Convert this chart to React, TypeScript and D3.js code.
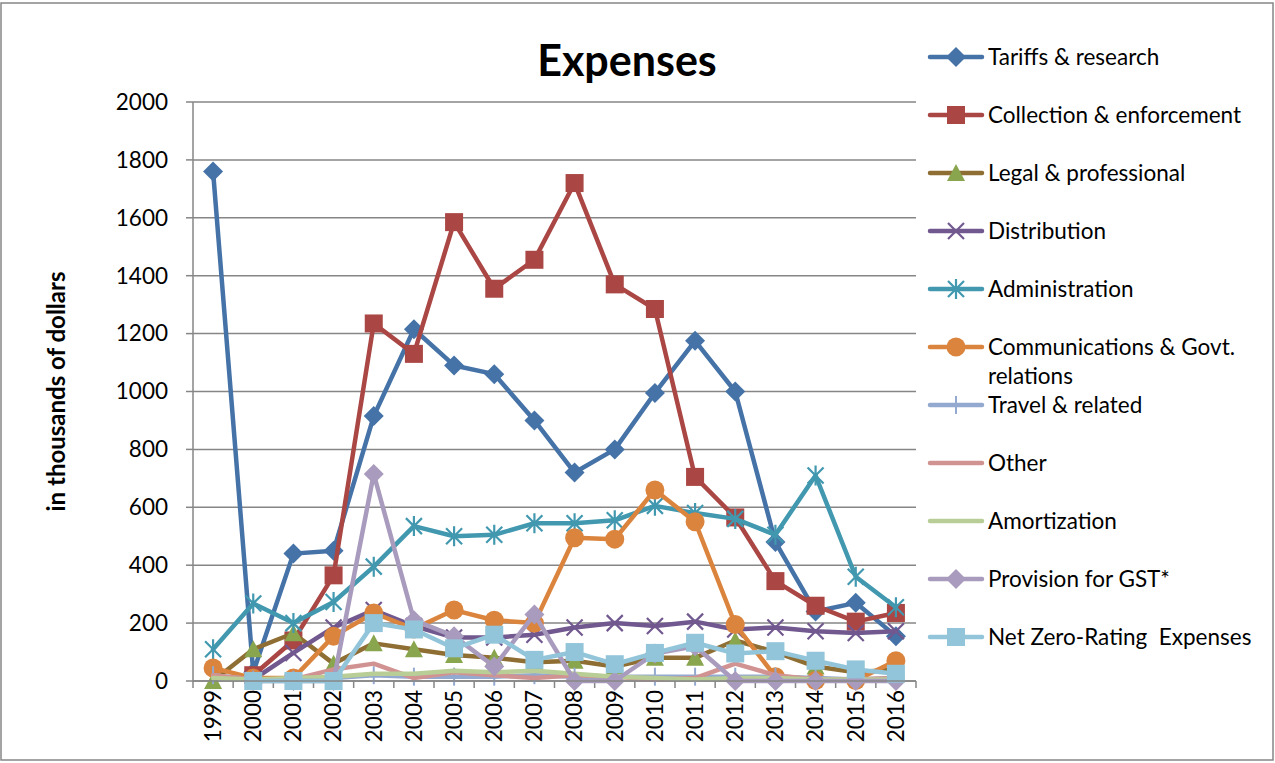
import React from "react";
import * as d3 from "d3";

const years = ["1999","2000","2001","2002","2003","2004","2005","2006","2007","2008","2009","2010","2011","2012","2013","2014","2015","2016"];
const yTicks = [0,200,400,600,800,1000,1200,1400,1600,1800,2000];

type V = number | null;
const tariffs: V[] = [1760,30,440,450,915,1215,1090,1060,900,720,800,995,1175,1000,480,240,270,155];
const collection: V[] = [null,20,140,365,1235,1130,1585,1355,1455,1720,1370,1285,705,565,345,260,205,235];
const legal: V[] = [0,110,165,60,130,110,90,80,65,70,50,80,80,140,100,50,30,40];
const distribution: V[] = [null,5,97,185,245,190,150,150,160,185,200,190,205,178,185,172,166,172];
const administration: V[] = [110,268,200,273,395,535,500,505,545,545,555,605,580,560,505,710,360,255];
const communications: V[] = [45,10,10,155,235,180,245,210,200,495,490,660,550,195,15,2,2,70];
const travel: V[] = [20,5,5,10,20,15,15,15,20,15,15,15,15,15,15,10,5,10];
const other: V[] = [20,5,5,40,60,10,30,20,10,20,15,5,10,60,20,5,5,10];
const amortization: V[] = [10,5,10,15,25,25,35,30,35,25,15,10,5,10,10,5,5,5];
const gst: V[] = [null,0,0,0,715,210,155,50,230,0,0,95,120,0,0,0,0,0];
const netZero: V[] = [null,0,0,0,200,178,113,160,73,100,58,97,132,95,103,70,40,25];

const seriesNames = ["Tariffs & research","Collection & enforcement","Legal & professional","Distribution","Administration","Communications & Govt. relations","Travel & related","Other","Amortization","Provision for GST*","Net Zero-Rating  Expenses"];
const seriesValues = [tariffs,collection,legal,distribution,administration,communications,travel,other,amortization,gst,netZero];
const lineColors = ["#4572A7","#AA4643","#8F6E33","#71588F","#4198AF","#DB843D","#93A9CF","#D19392","#B9CD96","#A99BBD","#92C5DA"];
const markerColors = ["#4572A7","#AA4643","#89A54E","#71588F","#4198AF","#DB843D","#93A9CF","#D19392","#B9CD96","#A99BBD","#92C5DA"];
const markerTypes = ["diamond","square","triangle","x","star","circle","plus","none","none","diamond","square"];

const FONT = "Lato, 'Open Sans', sans-serif";

function Marker({ type, color, x, y }: { type: string; color: string; x: number; y: number }) {
  switch (type) {
    case "diamond":
      return <path d={`M${x},${y - 10}L${x + 10},${y}L${x},${y + 10}L${x - 10},${y}Z`} fill={color} />;
    case "square":
      return <rect x={x - 9} y={y - 9} width={18} height={18} fill={color} />;
    case "triangle":
      return <path d={`M${x},${y - 9}L${x + 9},${y + 8}L${x - 9},${y + 8}Z`} fill={color} />;
    case "circle":
      return <circle cx={x} cy={y} r={9.5} fill={color} />;
    case "x":
      return <path d={`M${x - 8},${y - 8}L${x + 8},${y + 8}M${x - 8},${y + 8}L${x + 8},${y - 8}`} stroke={color} strokeWidth={2.2} fill="none" />;
    case "star":
      return <path d={`M${x - 8},${y - 8}L${x + 8},${y + 8}M${x - 8},${y + 8}L${x + 8},${y - 8}M${x},${y - 10}L${x},${y + 10}`} stroke={color} strokeWidth={2.2} fill="none" />;
    case "plus":
      return <path d={`M${x},${y - 9}L${x},${y + 9}`} stroke={color} strokeWidth={2} fill="none" />;
    default:
      return null;
  }
}

export default function App() {
  const W = 1275, H = 763;
  const left = 193, right = 916, top = 102, bottom = 681;
  const x = d3.scaleBand<string>().domain(years).range([left, right]);
  const y = d3.scaleLinear().domain([0, 2000]).range([bottom, top]);
  const cx = (yr: string) => (x(yr) as number) + x.bandwidth() / 2;

  const line = d3.line<[string, V]>()
    .defined(d => d[1] !== null)
    .x(d => cx(d[0]))
    .y(d => y(d[1] as number));

  const legendY0 = 57, legendStep = 58;
  const legendYs = seriesNames.map((_, i) => legendY0 + i * legendStep);

  return (
    <svg width={W} height={H} style={{ position: "absolute", left: 0, top: 0, fontFamily: FONT }}>
      <rect x={1} y={3} width={1272} height={757} fill="#fff" stroke="#868686" strokeWidth={1.5} />
      <text x={627} y={76} textAnchor="middle" fontSize={43} fontWeight="bold" fill="#000">Expenses</text>
      {/* gridlines */}
      {yTicks.map(t => (
        <line key={t} x1={left} x2={right} y1={y(t)} y2={y(t)} stroke="#868686" strokeWidth={1.5} />
      ))}
      {/* y axis */}
      <line x1={left} x2={left} y1={top} y2={bottom} stroke="#868686" strokeWidth={1.5} />
      {yTicks.map(t => (
        <g key={"yt" + t}>
          <line x1={left - 7} x2={left} y1={y(t)} y2={y(t)} stroke="#868686" strokeWidth={1.5} />
          <text x={168} y={y(t)} dy="0.35em" textAnchor="end" fontSize={22.5} fill="#000">{t}</text>
        </g>
      ))}
      {/* x axis */}
      {years.map(yr => (
        <line key={"xt" + yr} x1={x(yr) as number} x2={x(yr) as number} y1={bottom} y2={bottom + 7} stroke="#868686" strokeWidth={1.5} />
      ))}
      <line x1={right} x2={right} y1={bottom} y2={bottom + 7} stroke="#868686" strokeWidth={1.5} />
      {years.map(yr => (
        <text key={"xl" + yr} transform={`translate(${cx(yr)},${690}) rotate(-90)`} textAnchor="end" dy="0.35em" fontSize={22.5} fill="#000">{yr}</text>
      ))}
      <text transform={`translate(57,${(top + bottom) / 2}) rotate(-90)`} textAnchor="middle" dy="0.35em" fontSize={24} fontWeight="bold" fill="#000">in thousands of dollars</text>

      {/* series */}
      {seriesValues.map((vals, i) => {
        const pts = years.map((yr, j) => [yr, vals[j]] as [string, V]);
        return (
          <g key={"s" + i}>
            <path d={line(pts) || ""} fill="none" stroke={lineColors[i]} strokeWidth={4.5} strokeLinejoin="round" strokeLinecap="round" />
            {pts.filter(p => p[1] !== null).map(p => (
              <Marker key={p[0]} type={markerTypes[i]} color={markerColors[i]} x={cx(p[0])} y={y(p[1] as number)} />
            ))}
          </g>
        );
      })}
      <line x1={left} x2={right} y1={bottom} y2={bottom} stroke="#868686" strokeWidth={1.5} />

      {/* legend */}
      {seriesNames.map((name, i) => {
        const ly = legendYs[i];
        const lines = name === "Communications & Govt. relations" ? ["Communications & Govt.", "relations"] : [name];
        return (
          <g key={"lg" + i}>
            <line x1={930} x2={982} y1={ly} y2={ly} stroke={lineColors[i]} strokeWidth={4.5} strokeLinecap="round" />
            <Marker type={markerTypes[i]} color={markerColors[i]} x={956} y={ly} />
            {lines.map((t, k) => (
              <text key={k} x={988} y={ly + k * 29} dy="0.35em" fontSize={22.5} fill="#000" style={{ whiteSpace: "pre" }}>{t}</text>
            ))}
          </g>
        );
      })}
    </svg>
  );
}
